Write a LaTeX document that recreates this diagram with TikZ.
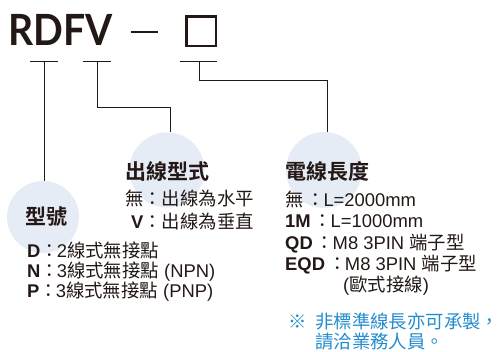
\documentclass[tikz,border=0pt]{standalone}
\usepackage{fontspec}
\setmainfont{Liberation Sans}
\newfontfamily\cjk{Noto Sans CJK TC}[BoldFont={Noto Sans CJK TC Bold}]
\newfontfamily\titlefont{Lato}
\newcommand{\C}[1]{{\cjk #1}}
\newcommand{\colR}{\kern3pt{\cjk ：}\kern-1.5pt}
\newcommand{\colL}{{\cjk ：}\kern-2pt}
\definecolor{ink}{HTML}{231815}
\definecolor{bub}{RGB}{230,236,246}
\definecolor{note}{RGB}{35,140,205}
\begin{document}
\begin{tikzpicture}[x=1pt,y=-1pt,
  txt/.style={inner sep=0pt, anchor=base west, text=ink},
  lst/.style={txt, font=\fontsize{18.4}{20}\selectfont},
  head/.style={txt, font=\fontsize{21}{24}\selectfont\cjk\bfseries},
  bubble/.style={circle, fill=bub, inner sep=0pt, minimum size=#1},
  wire/.style={draw=ink, line width=1pt}]
\useasboundingbox (0,0) rectangle (504,352);
% bubbles
\node[bubble=72pt] (c1) at (43,217) {};
\node[bubble=75pt] (c2) at (167,170) {};
\node[bubble=76pt] (c3) at (324,170) {};
% title
\node[txt, font=\fontsize{43}{48}\selectfont\titlefont\bfseries] (title) at (8,46) {\scalebox{0.91}[1]{RDFV}};
\coordinate (d1) at (131,32);
\coordinate (d2) at (158,32);
\draw[ink, line width=2.5pt] (d1) -- (d2);
\node[draw=ink, line width=2.5pt, minimum width=29.5pt, minimum height=29.5pt, inner sep=0pt] (box) at (201,31.5) {};
% leader lines
\coordinate (u1a) at (30,62); \coordinate (u1b) at (58,62); \coordinate (u1m) at (44,62);
\coordinate (u2a) at (83,62); \coordinate (u2b) at (111,62); \coordinate (u2m) at (97,62);
\coordinate (u3a) at (180,62); \coordinate (u3b) at (217,62); \coordinate (u3m) at (199,62);
\coordinate (k2) at (170,108);
\coordinate (k3) at (327,81);
\draw[wire] (u1a) -- (u1b);
\draw[wire] (u2a) -- (u2b);
\draw[wire] (u3a) -- (u3b);
\draw[wire] (u1m) -- (u1m |- c1.88);
\draw[wire] (u2m) |- (k2) -- (k2 |- c2.85);
\draw[wire] (u3m) |- (k3) -- (k3 |- c3.85);
% left block
\node[head] (h1) at (25,225) {型號};
\node[lst] (l1) at (27,258) {\textbf{D}\colL 2\C{線式無接點}};
\node[lst] (l2) at (27,278) {\textbf{N}\colL 3\C{線式無接點} (NPN)};
\node[lst] (l3) at (27,297.5) {\textbf{P}\colL 3\C{線式無接點} (PNP)};
% middle block
\node[head] (h2) at (125,180) {出線型式};
\node[lst, anchor=base east] (m1) at (254,206) {\C{無：出線為水平}};
\node[lst, anchor=base east] (m2) at (254,228.5) {\textbf{V}\C{：出線為垂直}};
% right block
\node[head] (h3) at (285,180) {電線長度};
\node[lst] (r1) at (285,207) {\C{無}\colR L=2000mm};
\node[lst] (r2) at (285,227.5) {\textbf{1M}\colR L=1000mm};
\node[lst] (r3) at (285,249.5) {\textbf{QD}\colR M8 3PIN \C{端子型}};
\node[lst] (r4) at (285,270.5) {\textbf{EQD}\colR M8 3PIN \C{端子型}};
\node[lst] (r5) at (343,291.5) {(\C{歐式接線})};
% note
\node[lst, text=note] (s1) at (288,329) {\C{※}};
\node[lst, text=note] (s2) at (315,329) {\C{非標準線長亦可承製，}};
\node[lst, text=note] (s3) at (315,349) {\C{請洽業務人員。}};
\end{tikzpicture}
\end{document}
